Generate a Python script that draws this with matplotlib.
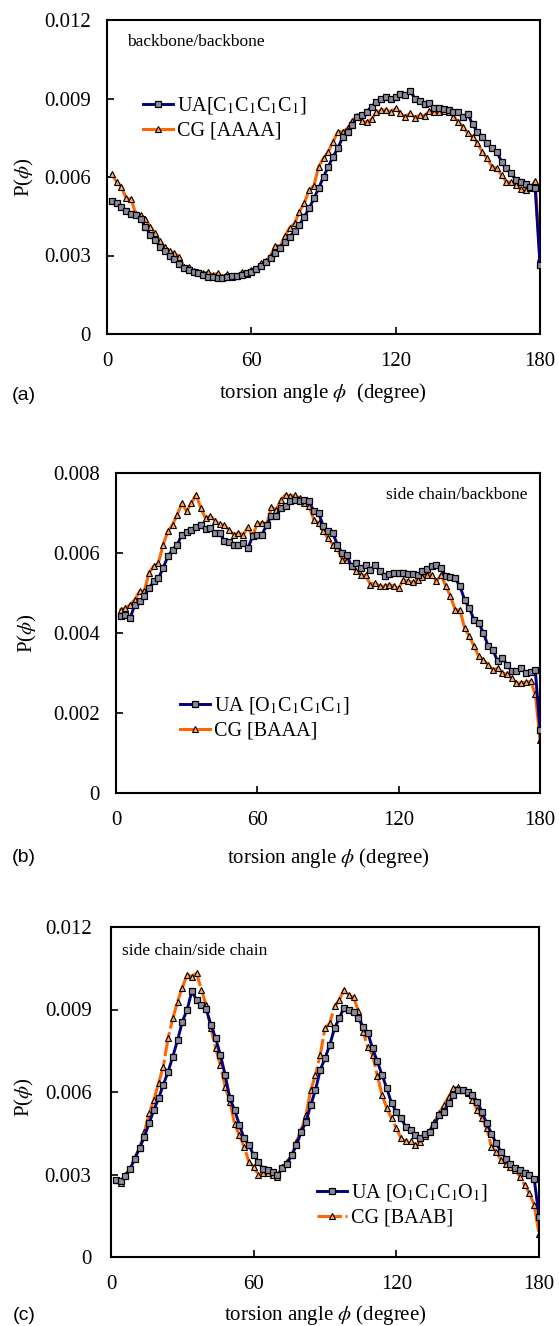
import numpy as np
import matplotlib
matplotlib.use("Agg")
import matplotlib.pyplot as plt

plt.rcParams['font.family'] = ['Liberation Serif', 'DejaVu Serif']
plt.rcParams['mathtext.fontset'] = 'stix'

# torsion angle grid (degree), one bin every 2 degrees
angle = list(range(2, 181, 2))

# (a) backbone/backbone
ua_a = [0.0051, 0.0050, 0.00487, 0.0047, 0.0046, 0.00455, 0.0044, 0.0041, 0.0038, 0.0036,
        0.00334, 0.00317, 0.0030, 0.00285, 0.00266, 0.00254, 0.00245, 0.00238, 0.00232, 0.00225,
        0.00219, 0.00217, 0.00213, 0.00213, 0.00217, 0.0022, 0.00222, 0.00225, 0.00232, 0.00238,
        0.00248, 0.00261, 0.00274, 0.00289, 0.00308, 0.00327, 0.00353, 0.00372, 0.00394, 0.00417,
        0.00448, 0.0048, 0.00518, 0.00557, 0.00601, 0.0064, 0.00678, 0.0071, 0.00754, 0.00773,
        0.00799, 0.00831, 0.00837, 0.0085, 0.00869, 0.00888, 0.00898, 0.00905, 0.009, 0.00905,
        0.00916, 0.00913, 0.00929, 0.009, 0.0089, 0.00878, 0.00884, 0.00862, 0.00862, 0.0086,
        0.00856, 0.0085, 0.00847, 0.00831, 0.0084, 0.00801, 0.00773, 0.00754, 0.00729, 0.0071,
        0.00697, 0.00659, 0.00633, 0.00614, 0.00589, 0.00582, 0.00572, 0.00563, 0.00557, 0.00264]
cg_a = [0.0061, 0.00582, 0.00563, 0.00518, 0.00516, 0.00457, 0.00455, 0.0044, 0.0041, 0.00385,
        0.00355, 0.00334, 0.00317, 0.00308, 0.00296, 0.00257, 0.00257, 0.00241, 0.00238, 0.00232,
        0.00236, 0.00225, 0.00232, 0.00219, 0.00228, 0.00219, 0.00223, 0.00236, 0.00228, 0.00245,
        0.00248, 0.0027, 0.00279, 0.00299, 0.00338, 0.00334, 0.00376, 0.00406, 0.00423, 0.00468,
        0.005, 0.0055, 0.00567, 0.0064, 0.00671, 0.00697, 0.00735, 0.00773, 0.00773, 0.00786,
        0.00814, 0.00834, 0.00814, 0.00809, 0.00822, 0.00847, 0.00856, 0.00856, 0.0085, 0.00862,
        0.00843, 0.00831, 0.00843, 0.00827, 0.00837, 0.00834, 0.00852, 0.00847, 0.00847, 0.00852,
        0.0085, 0.00831, 0.00812, 0.00792, 0.00767, 0.00754, 0.00729, 0.00697, 0.00671, 0.0064,
        0.00633, 0.00608, 0.00582, 0.0058, 0.00569, 0.00554, 0.0055, 0.00557, 0.00585, 0.00292]

# (b) side chain/backbone
ua_b = [0.00442, 0.00446, 0.00437, 0.00471, 0.00479, 0.00492, 0.00512, 0.00529, 0.00537, 0.00562,
        0.00592, 0.00608, 0.00621, 0.00646, 0.00652, 0.00658, 0.00664, 0.00671, 0.00661, 0.00662,
        0.0065, 0.0065, 0.00631, 0.00627, 0.00619, 0.00619, 0.00625, 0.00612, 0.00642, 0.00646,
        0.00646, 0.00671, 0.00692, 0.00692, 0.00712, 0.00717, 0.00729, 0.00733, 0.00729, 0.00733,
        0.00729, 0.00704, 0.007, 0.00667, 0.00654, 0.0065, 0.00621, 0.006, 0.00594, 0.00567,
        0.00575, 0.00562, 0.00571, 0.00558, 0.00571, 0.00554, 0.00542, 0.00548, 0.0055, 0.0055,
        0.0055, 0.00548, 0.00548, 0.00546, 0.00554, 0.00561, 0.00567, 0.00571, 0.00562, 0.00542,
        0.00539, 0.00537, 0.00517, 0.00483, 0.00462, 0.00433, 0.00425, 0.004, 0.00367, 0.00358,
        0.00329, 0.00337, 0.00321, 0.00304, 0.00304, 0.00312, 0.003, 0.00302, 0.00308, 0.00158]
cg_b = [0.00458, 0.00462, 0.00471, 0.00483, 0.00504, 0.00504, 0.0055, 0.00567, 0.00575, 0.00621,
        0.00654, 0.00671, 0.00696, 0.00725, 0.00704, 0.00725, 0.00746, 0.00712, 0.00687, 0.00692,
        0.00681, 0.00672, 0.00669, 0.00658, 0.00646, 0.0065, 0.00646, 0.00664, 0.00642, 0.00675,
        0.00675, 0.00672, 0.00714, 0.00708, 0.00733, 0.00746, 0.00742, 0.00744, 0.00737, 0.00725,
        0.00717, 0.00683, 0.00675, 0.00654, 0.00637, 0.00621, 0.00612, 0.00583, 0.00583, 0.00567,
        0.00554, 0.00546, 0.00544, 0.00521, 0.00525, 0.00517, 0.00517, 0.00521, 0.00517, 0.00512,
        0.00533, 0.00529, 0.00527, 0.00533, 0.00539, 0.00546, 0.00546, 0.00529, 0.00546, 0.00517,
        0.00492, 0.00458, 0.00458, 0.00412, 0.00392, 0.00367, 0.00342, 0.00333, 0.00321, 0.00308,
        0.00312, 0.003, 0.00297, 0.00287, 0.00275, 0.00275, 0.00277, 0.00279, 0.00248, 0.00133]

# (c) side chain/side chain
ua_c = [0.00279, 0.00276, 0.00295, 0.00319, 0.00358, 0.00395, 0.00437, 0.00486, 0.00534, 0.00577,
        0.00626, 0.00674, 0.00729, 0.00789, 0.00856, 0.00899, 0.00966, 0.00935, 0.00917, 0.00902,
        0.00844, 0.00796, 0.00735, 0.00662, 0.00577, 0.00534, 0.0048, 0.00431, 0.00407, 0.0037,
        0.00346, 0.00319, 0.00316, 0.0031, 0.00298, 0.00322, 0.0034, 0.0037, 0.00407, 0.00455,
        0.00492, 0.00553, 0.00607, 0.0068, 0.00723, 0.00771, 0.00832, 0.00868, 0.00907, 0.00899,
        0.0089, 0.00868, 0.00838, 0.00814, 0.00759, 0.00711, 0.00662, 0.00613, 0.00559, 0.00528,
        0.00504, 0.00474, 0.00462, 0.00443, 0.00431, 0.00449, 0.00455, 0.0048, 0.00516, 0.00528,
        0.00559, 0.00589, 0.00607, 0.00607, 0.00601, 0.00589, 0.00565, 0.00528, 0.00486, 0.00449,
        0.00413, 0.00383, 0.00358, 0.0034, 0.00322, 0.00316, 0.00304, 0.00298, 0.00283, 0.00146]
cg_c = [0.00279, 0.0027, 0.00298, 0.00322, 0.00361, 0.00397, 0.00453, 0.00522, 0.00571, 0.00632,
        0.00692, 0.00796, 0.00868, 0.00929, 0.0098, 0.01026, 0.0102, 0.01032, 0.00972, 0.00917,
        0.00832, 0.00759, 0.00698, 0.00619, 0.00565, 0.00482, 0.00443, 0.00401, 0.00346, 0.00328,
        0.00298, 0.00304, 0.00304, 0.00298, 0.00292, 0.00328, 0.00346, 0.0037, 0.00419, 0.00462,
        0.00516, 0.00607, 0.00662, 0.00735, 0.00832, 0.0085, 0.00911, 0.00935, 0.00972, 0.00953,
        0.00944, 0.00895, 0.0082, 0.00762, 0.00735, 0.0066, 0.00589, 0.00541, 0.00504, 0.00468,
        0.00431, 0.00421, 0.00421, 0.00407, 0.00419, 0.00441, 0.00462, 0.00492, 0.00522, 0.00553,
        0.00583, 0.00613, 0.00617, 0.00607, 0.00595, 0.00571, 0.00534, 0.00504, 0.00468, 0.00401,
        0.00383, 0.00352, 0.0034, 0.00328, 0.00316, 0.00292, 0.00261, 0.00231, 0.00188, 0.00085]

xticks = [0, 60, 120, 180]
yticks_a = [0, 0.003, 0.006, 0.009, 0.012]
ylabels_a = ['0', '0.003', '0.006', '0.009', '0.012']
yticks_b = [0, 0.002, 0.004, 0.006, 0.008]
ylabels_b = ['0', '0.002', '0.004', '0.006', '0.008']

W, H = 559, 1326
fig = plt.figure(figsize=(W / 100, H / 100), dpi=100)


def px_axes(x0, y0, x1, y1):
    return fig.add_axes([x0 / W, 1 - y1 / H, (x1 - x0) / W, (y1 - y0) / H])


def panel(ax, ua, cg, ua_lab, cg_lab, yt, yl, ypad, cg_ls='-'):
    l1, = ax.plot(angle, ua, color='#000080', lw=2.1, marker='s', ms=3.8,
                  mfc='#8c8ca0', mec='black', mew=0.9, label=ua_lab, zorder=3)
    l2, = ax.plot(angle, cg, color='#ff6600', lw=2.2, ls=cg_ls, marker='^', ms=4.4,
                  mfc='#ffa866', mec='black', mew=0.8, label=cg_lab, zorder=2)
    ax.set_xlim(0, 180)
    ax.set_ylim(yt[0], yt[-1])
    ax.set_xticks(xticks)
    ax.set_xticklabels([str(t) for t in xticks])
    ax.set_yticks(yt)
    ax.set_yticklabels(yl)
    ax.tick_params(direction='in', length=5, width=1.2, labelsize=15,
                   top=False, right=False)
    ax.tick_params(axis='x', pad=13)
    ax.tick_params(axis='y', pad=ypad)
    for s in ax.spines.values():
        s.set_linewidth(1.5)
    return l1, l2


def legend_at(ax, handles, x, y):
    ax.legend(handles=handles, loc='center left', bbox_to_anchor=(x / W, 1 - y / H),
              bbox_transform=fig.transFigure, frameon=False, borderpad=0,
              borderaxespad=0, handlelength=1.5, handletextpad=0.2,
              labelspacing=0.25, fontsize=14.5, numpoints=1)


def fig_text(x, y, s, **kw):
    fig.text(x / W, 1 - y / H, s, ha=kw.pop('ha', 'center'), va='center', **kw)


# (a)
ax_a = px_axes(107, 20, 540, 334)
h = panel(ax_a, ua_a, cg_a, r'UA[C$_1$C$_1$C$_1$C$_1$]', 'CG [AAAA]',
          yticks_a, ylabels_a, 11.5)
legend_at(ax_a, list(h), 143, 118)
fig_text(127, 42, 'backbone/backbone', ha='left', fontsize=12.5)
fig_text(24, 177, r'P($\phi$)', rotation=90, fontsize=15)
fig_text(323, 393, r'torsion angle $\phi$  (degree)', fontsize=15)
fig_text(24, 395, '(a)', family='Liberation Sans', fontsize=14)

# (b)
ax_b = px_axes(116, 473, 540, 793)
h = panel(ax_b, ua_b, cg_b, r'UA [O$_1$C$_1$C$_1$C$_1$]', 'CG [BAAA]',
          yticks_b, ylabels_b, 11.5)
legend_at(ax_b, list(h), 180, 718)
fig_text(527, 495, 'side chain/backbone', ha='right', fontsize=12.5)
fig_text(27, 633, r'P($\phi$)', rotation=90, fontsize=15)
fig_text(328, 858, r'torsion angle $\phi$ (degree)', fontsize=15)
fig_text(24, 858, '(b)', family='Liberation Sans', fontsize=14)

# (c)
ax_c = px_axes(111, 927, 539, 1257)
h = panel(ax_c, ua_c, cg_c, r'UA [O$_1$C$_1$C$_1$O$_1$]', 'CG [BAAB]',
          yticks_a, ylabels_a, 14, cg_ls=(0, (8, 1.2)))
legend_at(ax_c, list(h), 317, 1205)
fig_text(122, 951, 'side chain/side chain', ha='left', fontsize=12.5)
fig_text(24, 1097, r'P($\phi$)', rotation=90, fontsize=15)
fig_text(325, 1315, r'torsion angle $\phi$ (degree)', fontsize=15)
fig_text(24, 1315, '(c)', family='Liberation Sans', fontsize=14)

fig.savefig('out.png', dpi=100)
